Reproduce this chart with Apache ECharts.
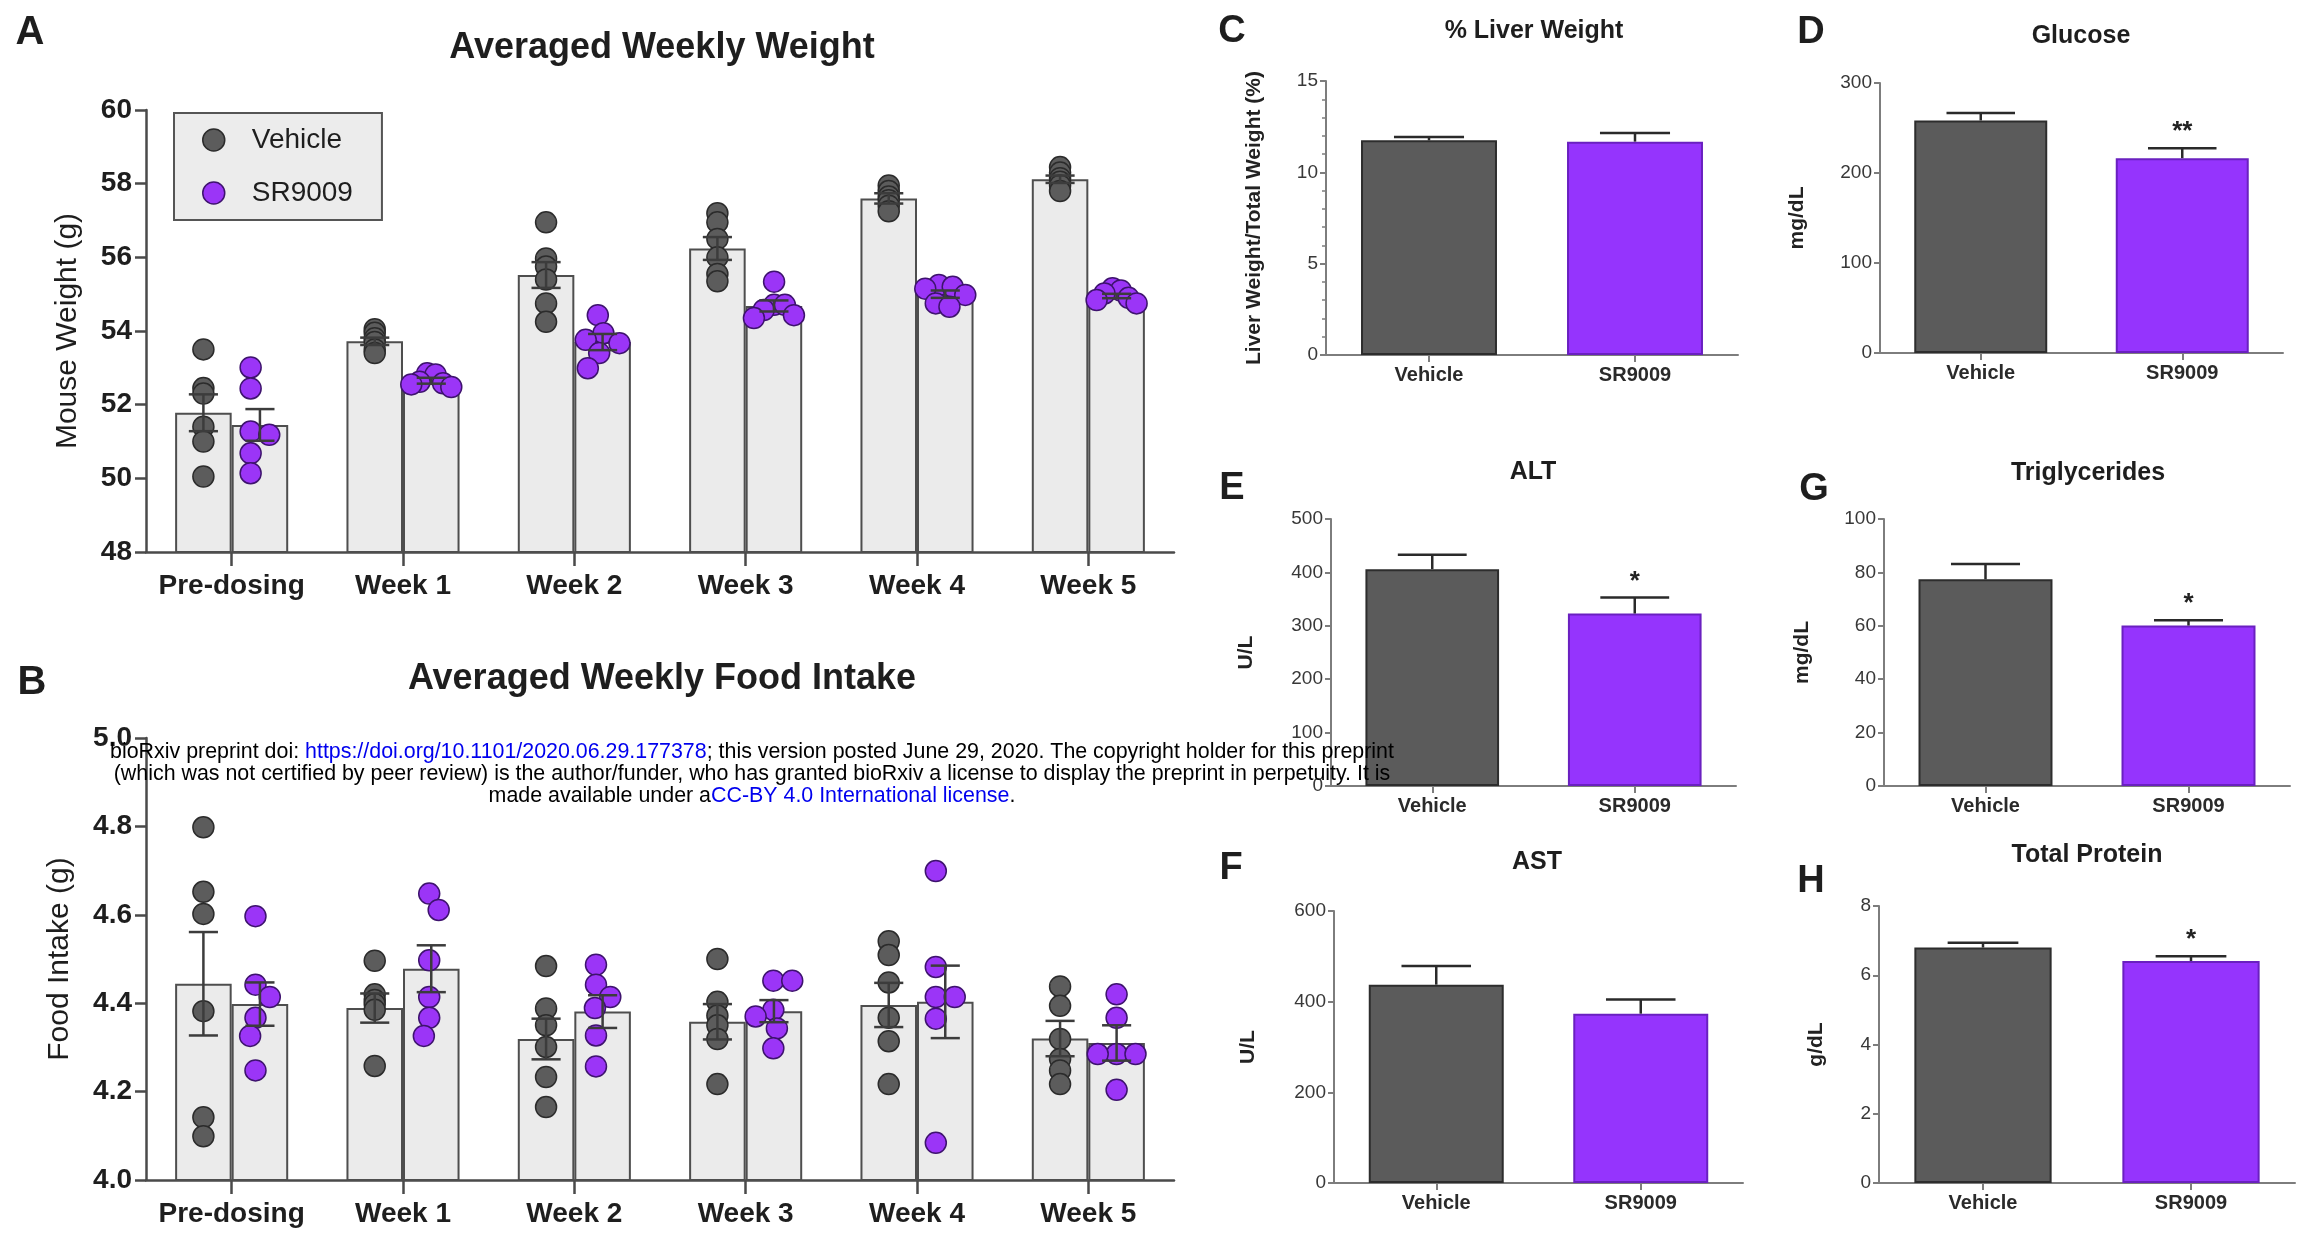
<!DOCTYPE html>
<html>
<head>
<meta charset="utf-8">
<script src="https://cdn.jsdelivr.net/npm/echarts@6.0.0/dist/echarts.min.js"></script>
<style>html,body{margin:0;padding:0;background:#fff}#c{width:2308px;height:1254px}</style>
</head>
<body>
<div id="c"></div>
<script>
// ---------------- DATA ----------------
const weeks = ['Pre-dosing', 'Week 1', 'Week 2', 'Week 3', 'Week 4', 'Week 5'];
const groups = ['Vehicle', 'SR9009'];

// A: Averaged Weekly Weight (g)
const weightTicks = [48, 50, 52, 54, 56, 58, 60];
const weightVehicleMean = [51.78, 53.72, 55.52, 56.24, 57.60, 58.12];
const weightVehicleSem  = [0.50, 0.10, 0.35, 0.31, 0.14, 0.10];
const weightSRMean      = [51.45, 52.65, 53.70, 54.68, 55.00, 54.95];
const weightSRSem       = [0.43, 0.08, 0.22, 0.15, 0.10, 0.06];
const weightVehiclePoints = [
  [53.50, 52.45, 52.30, 51.40, 51.00, 50.05],
  [54.05, 53.95, 53.80, 53.70, 53.50, 53.40],
  [56.95, 55.97, 55.75, 55.40, 54.75, 54.25],
  [57.20, 56.95, 56.50, 56.00, 55.55, 55.35],
  [57.95, 57.80, 57.65, 57.55, 57.40, 57.25],
  [58.45, 58.30, 58.15, 58.05, 57.95, 57.80]
];
const weightSRPoints = [
  [53.01, 52.44, 51.27, 51.18, 50.68, 50.14],
  [52.85, 52.82, 52.62, 52.58, 52.55, 52.48],
  [54.43, 53.94, 53.76, 53.67, 53.40, 52.99],
  [55.34, 54.71, 54.71, 54.57, 54.43, 54.35],
  [55.25, 55.20, 55.15, 54.98, 54.75, 54.66],
  [55.16, 55.10, 55.02, 54.90, 54.84, 54.75]
];

// B: Averaged Weekly Food Intake (g)
const foodTicks = [4.0, 4.2, 4.4, 4.6, 4.8, 5.0];
const foodVehicleMean = [4.444, 4.389, 4.319, 4.358, 4.396, 4.320];
const foodVehicleSem  = [0.117, 0.033, 0.046, 0.040, 0.050, 0.040];
const foodSRMean      = [4.398, 4.478, 4.381, 4.382, 4.403, 4.310];
const foodSRSem       = [0.049, 0.053, 0.037, 0.025, 0.082, 0.040];
const foodVehiclePoints = [
  [4.798, 4.652, 4.602, 4.382, 4.142, 4.099],
  [4.496, 4.420, 4.407, 4.398, 4.385, 4.258],
  [4.484, 4.388, 4.350, 4.301, 4.233, 4.165],
  [4.500, 4.403, 4.372, 4.350, 4.319, 4.217],
  [4.540, 4.509, 4.447, 4.367, 4.314, 4.217],
  [4.438, 4.394, 4.319, 4.274, 4.248, 4.217]
];
const foodSRPoints = [
  [4.597, 4.442, 4.414, 4.367, 4.326, 4.248],
  [4.648, 4.611, 4.497, 4.414, 4.367, 4.326],
  [4.487, 4.442, 4.414, 4.389, 4.327, 4.257],
  [4.451, 4.451, 4.385, 4.370, 4.343, 4.298],
  [4.699, 4.482, 4.414, 4.414, 4.365, 4.084],
  [4.420, 4.367, 4.285, 4.285, 4.285, 4.204]
];

// C-H: serum / tissue measures, [Vehicle, SR9009]
const liverMean   = [11.75, 11.68];  const liverSem   = [0.18, 0.47];  const liverSig   = ['', ''];
const glucoseMean = [258.4, 216.5];  const glucoseSem = [8.2, 11.1];   const glucoseSig = ['', '**'];
const altMean     = [406, 323];      const altSem     = [27, 30];      const altSig     = ['', '*'];
const trigMean    = [77.4, 60.1];    const trigSem    = [5.7, 2.0];    const trigSig    = ['', '*'];
const astMean     = [437.5, 373.5];  const astSem     = [41, 31.5];    const astSig     = ['', ''];
const proteinMean = [6.80, 6.41];    const proteinSem = [0.14, 0.14];  const proteinSig = ['', '*'];

const watermarkLines = [
  ['bioRxiv preprint doi: ', 'https://doi.org/10.1101/2020.06.29.177378', '; this version posted June 29, 2020. The copyright holder for this preprint'],
  ['(which was not certified by peer review) is the author/funder, who has granted bioRxiv a license to display the preprint in perpetuity. It is', '', ''],
  ['made available under a', 'CC-BY 4.0 International license', '.']
];

// ---------------- STYLE ----------------
const FONT = '"Liberation Sans", Arial, Helvetica, sans-serif';
const DOT = 21;
const SWARM_LIMIT = 20;
const C = {
  vehDot: '#5c5c5c', vehDotBorder: '#2b2b2b',
  srDot: '#9b35f7', srDotBorder: '#3e136e',
  light: '#ebebeb', lightBorder: '#4e4e4e',
  vehBar: '#5b5b5b', vehBarBorder: '#2d2d2d',
  srBar: '#9534fd', srBarBorder: '#6a20c0',
  axisDark: '#4a4a4a', axisGray: '#7d7d7d', text: '#1e1e1e'
};

function beeswarm(ys, D) {
  const order = ys.map((y, i) => i).sort((a, b) => ys[a] - ys[b]);
  const placed = [];
  const res = new Array(ys.length).fill(0);
  let flip = 1;
  for (const i of order) {
    const y = ys[i];
    const cands = [0];
    for (const p of placed) {
      const dy = Math.abs(p.y - y);
      if (dy < D) { const w = Math.sqrt(D * D - dy * dy); cands.push(p.x + w, p.x - w); }
    }
    cands.sort((a, b) => Math.abs(a) - Math.abs(b) || (flip * (b - a)));
    let x = 0;
    for (const c of cands) {
      if (placed.every(p => (p.x - c) * (p.x - c) + (p.y - y) * (p.y - y) >= D * D - 0.01)) { x = c; break; }
    }
    if (x !== 0) flip = -flip;
    placed.push({ x, y });
    res[i] = x;
  }
  // centre the swarm and compress it so it stays within the bar, as in the original figure
  const lo = Math.min(...res), hi = Math.max(...res);
  const shift = (lo + hi) / 2;
  let out = res.map(v => v - shift);
  const m = Math.max(...out.map(Math.abs));
  if (m > SWARM_LIMIT) out = out.map(v => v * SWARM_LIMIT / m);
  return out;
}

const grids = [], xAxes = [], yAxes = [], series = [], graphics = [];

function addText(x, y, text, font, extra) {
  graphics.push(Object.assign({
    type: 'text', x, y, z: 50,
    style: { text, font, fill: C.text, align: 'center', verticalAlign: 'middle', textAlign: 'center', textVerticalAlign: 'middle' }
  }, extra || {}));
}

// ---------------- WEEKLY PANELS (A, B) ----------------
function weeklyPanel(cfg) {
  const gi = grids.length;
  grids.push(cfg.grid);
  xAxes.push({
    type: 'category', gridIndex: gi, data: weeks,
    axisLine: { show: true, lineStyle: { color: C.axisDark, width: 2.5 } },
    axisTick: { show: true, alignWithLabel: true, interval: 0, length: 14, lineStyle: { color: C.axisDark, width: 2.5 } },
    axisLabel: { interval: 0, margin: 20, fontSize: 28, fontWeight: 'bold', color: C.text, fontFamily: FONT },
    splitLine: { show: false }
  });
  yAxes.push({
    type: 'value', gridIndex: gi, min: cfg.ticks[0], max: cfg.ticks[cfg.ticks.length - 1],
    interval: cfg.ticks[1] - cfg.ticks[0],
    name: cfg.yName, nameLocation: 'middle', nameGap: cfg.nameGap, nameRotate: 90,
    nameTextStyle: { fontSize: 30, color: C.text, fontFamily: FONT },
    axisLine: { show: true, lineStyle: { color: C.axisDark, width: 2.5 } },
    axisTick: { show: true, length: 11, lineStyle: { color: C.axisDark, width: 2.5 } },
    axisLabel: { margin: 14, fontSize: 28, fontWeight: 'bold', color: C.text, fontFamily: FONT, formatter: cfg.fmt },
    splitLine: { show: false }
  });
  const barCommon = {
    type: 'bar', xAxisIndex: gi, yAxisIndex: gi, barGap: '0%', barCategoryGap: '34%', z: 2,
    itemStyle: { color: C.light, borderColor: C.lightBorder, borderWidth: 2 }, silent: true
  };
  series.push(Object.assign({ name: cfg.id + ' Vehicle mean', data: cfg.vMean }, barCommon));
  series.push(Object.assign({ name: cfg.id + ' SR9009 mean', data: cfg.sMean }, barCommon));

  const sets = [
    { g: 0, name: 'Vehicle', pts: cfg.vPts, fill: C.vehDot, stroke: C.vehDotBorder, swarm: false, mean: cfg.vMean, sem: cfg.vSem },
    { g: 1, name: 'SR9009', pts: cfg.sPts, fill: C.srDot, stroke: C.srDotBorder, swarm: true, mean: cfg.sMean, sem: cfg.sSem }
  ];
  sets.forEach(s => {
    const off = (s.g === 0 ? -1 : 1) * 0.165;
    const data = [];
    s.pts.forEach((vals, ci) => vals.forEach((v, k) => data.push([ci, v, k])));
    series.push({
      type: 'custom', name: s.name, xAxisIndex: gi, yAxisIndex: gi, z: 5, silent: true,
      data, encode: { x: 0, y: 1 },
      itemStyle: { color: s.fill, borderColor: s.stroke },
      renderItem(params, api) {
        const ci = api.value(0), k = api.value(2);
        const band = api.size([1, 0])[0];
        const cx0 = api.coord([ci, cfg.ticks[0]])[0] + off * band;
        const ys = s.pts[ci].map(v => api.coord([ci, v])[1]);
        const dx = s.swarm ? beeswarm(ys, DOT * 0.9)[k] : 0;
        return { type: 'circle', shape: { cx: cx0 + dx, cy: ys[k], r: DOT / 2 },
                 style: { fill: s.fill, stroke: s.stroke, lineWidth: 1.5 } };
      }
    });
    series.push({
      type: 'custom', name: cfg.id + ' ' + s.name + ' SEM', xAxisIndex: gi, yAxisIndex: gi, z: 6, silent: true,
      data: s.mean.map((m, ci) => [ci, m, s.sem[ci]]), encode: { x: 0, y: 1 },
      renderItem(params, api) {
        const ci = api.value(0), m = api.value(1), e = api.value(2);
        const band = api.size([1, 0])[0];
        const x = api.coord([ci, m])[0] + off * band;
        const yt = api.coord([ci, m + e])[1], yb = api.coord([ci, m - e])[1];
        const hw = band * 0.085;
        const st = { stroke: '#3c3c3c', lineWidth: 2.5 };
        return { type: 'group', children: [
          { type: 'line', shape: { x1: x, y1: yt, x2: x, y2: yb }, style: st },
          { type: 'line', shape: { x1: x - hw, y1: yt, x2: x + hw, y2: yt }, style: st },
          { type: 'line', shape: { x1: x - hw, y1: yb, x2: x + hw, y2: yb }, style: st }
        ] };
      }
    });
  });
  addText(cfg.titlePos[0], cfg.titlePos[1], cfg.title, 'bold 36px ' + FONT);
  addText(cfg.letterPos[0], cfg.letterPos[1], cfg.id, 'bold 40px ' + FONT);
}

weeklyPanel({
  id: 'A', title: 'Averaged Weekly Weight', yName: 'Mouse Weight (g)', nameGap: 63,
  grid: { left: 146, top: 110, width: 1028, height: 442 },
  ticks: weightTicks, fmt: v => String(v),
  vMean: weightVehicleMean, vSem: weightVehicleSem, sMean: weightSRMean, sSem: weightSRSem,
  vPts: weightVehiclePoints, sPts: weightSRPoints,
  titlePos: [662, 48], letterPos: [30, 33]
});
weeklyPanel({
  id: 'B', title: 'Averaged Weekly Food Intake', yName: 'Food Intake (g)', nameGap: 71,
  grid: { left: 146, top: 738, width: 1028, height: 442 },
  ticks: foodTicks, fmt: v => v.toFixed(1),
  vMean: foodVehicleMean, vSem: foodVehicleSem, sMean: foodSRMean, sSem: foodSRSem,
  vPts: foodVehiclePoints, sPts: foodSRPoints,
  titlePos: [662, 679], letterPos: [32, 683]
});

// ---------------- BIOCHEMISTRY PANELS (C-H) ----------------
function bioPanel(cfg) {
  const gi = grids.length;
  grids.push(cfg.grid);
  xAxes.push({
    type: 'category', gridIndex: gi, data: groups,
    axisLine: { show: true, lineStyle: { color: C.axisGray, width: 2 } },
    axisTick: { show: true, alignWithLabel: true, interval: 0, length: 7, lineStyle: { color: C.axisGray, width: 2 } },
    axisLabel: { interval: 0, margin: 10, fontSize: 20, fontWeight: 'bold', color: '#2a2a2a', fontFamily: FONT },
    splitLine: { show: false }
  });
  yAxes.push({
    type: 'value', gridIndex: gi, min: 0, max: cfg.max, interval: cfg.interval,
    name: cfg.yName, nameLocation: 'middle', nameGap: cfg.nameGap, nameRotate: 90,
    nameTextStyle: { fontSize: 21, fontWeight: 'bold', color: '#222', fontFamily: FONT },
    axisLine: { show: true, lineStyle: { color: C.axisGray, width: 2 } },
    axisTick: { show: true, length: 6, lineStyle: { color: C.axisGray, width: 2 } },
    minorTick: { show: !!cfg.minor, splitNumber: 5, length: 4, lineStyle: { color: C.axisGray, width: 1.5 } },
    axisLabel: { margin: 8, fontSize: 19, color: '#383838', fontFamily: FONT },
    splitLine: { show: false }, minorSplitLine: { show: false }
  });
  series.push({
    type: 'bar', name: cfg.id + ' bars', xAxisIndex: gi, yAxisIndex: gi, barCategoryGap: '34%', z: 2, silent: true,
    data: cfg.mean.map((m, i) => ({
      value: m,
      itemStyle: i === 0 ? { color: C.vehBar, borderColor: C.vehBarBorder, borderWidth: 2 }
                         : { color: C.srBar, borderColor: C.srBarBorder, borderWidth: 2 }
    }))
  });
  series.push({
    type: 'custom', name: cfg.id + ' SEM', xAxisIndex: gi, yAxisIndex: gi, z: 6, silent: true,
    data: cfg.mean.map((m, i) => [i, m, cfg.sem[i]]), encode: { x: 0, y: 1 },
    renderItem(params, api) {
      const i = api.value(0), m = api.value(1), e = api.value(2);
      const band = api.size([1, 0])[0];
      const p = api.coord([i, m]);
      const yt = api.coord([i, m + e])[1];
      const hw = band * 0.17;
      const st = { stroke: '#2a2a2a', lineWidth: 2.5 };
      const children = [
        { type: 'line', shape: { x1: p[0], y1: p[1], x2: p[0], y2: yt }, style: st },
        { type: 'line', shape: { x1: p[0] - hw, y1: yt, x2: p[0] + hw, y2: yt }, style: st }
      ];
      const sig = cfg.sig[i];
      if (sig) {
        children.push({ type: 'text', style: {
          text: sig, x: p[0], y: yt - 3, font: 'bold 26px ' + FONT, fill: '#222',
          align: 'center', verticalAlign: 'bottom', textAlign: 'center', textVerticalAlign: 'bottom'
        } });
      }
      return { type: 'group', children };
    }
  });
  addText(cfg.titlePos[0], cfg.titlePos[1], cfg.title, 'bold 25px ' + FONT);
  addText(cfg.letterPos[0], cfg.letterPos[1], cfg.id, 'bold 38px ' + FONT);
}

bioPanel({ id: 'C', title: '% Liver Weight', yName: 'Liver Weight/Total Weight (%)', nameGap: 61,
  grid: { left: 1326, top: 81, width: 412, height: 274 }, max: 15, interval: 5, minor: true,
  mean: liverMean, sem: liverSem, sig: liverSig, titlePos: [1534, 31], letterPos: [1232, 32] });
bioPanel({ id: 'D', title: 'Glucose', yName: 'mg/dL', nameGap: 72,
  grid: { left: 1880, top: 83, width: 403, height: 270 }, max: 300, interval: 100,
  mean: glucoseMean, sem: glucoseSem, sig: glucoseSig, titlePos: [2081, 36], letterPos: [1811, 33] });
bioPanel({ id: 'E', title: 'ALT', yName: 'U/L', nameGap: 74,
  grid: { left: 1331, top: 519, width: 405, height: 267 }, max: 500, interval: 100,
  mean: altMean, sem: altSem, sig: altSig, titlePos: [1533, 472], letterPos: [1232, 489] });
bioPanel({ id: 'G', title: 'Triglycerides', yName: 'mg/dL', nameGap: 71,
  grid: { left: 1884, top: 519, width: 406, height: 267 }, max: 100, interval: 20,
  mean: trigMean, sem: trigSem, sig: trigSig, titlePos: [2088, 473], letterPos: [1814, 490] });
bioPanel({ id: 'F', title: 'AST', yName: 'U/L', nameGap: 75,
  grid: { left: 1334, top: 911, width: 409, height: 272 }, max: 600, interval: 200,
  mean: astMean, sem: astSem, sig: astSig, titlePos: [1537, 862], letterPos: [1231, 869] });
bioPanel({ id: 'H', title: 'Total Protein', yName: 'g/dL', nameGap: 52,
  grid: { left: 1879, top: 906, width: 416, height: 277 }, max: 8, interval: 2,
  mean: proteinMean, sem: proteinSem, sig: proteinSig, titlePos: [2087, 855], letterPos: [1811, 882] });

// ---------------- WATERMARK ----------------
const wmY = [752, 774, 796];
watermarkLines.forEach((parts, li) => {
  let t = '';
  if (parts[0]) t += '{n|' + parts[0] + '}';
  if (parts[1]) t += '{l|' + parts[1] + '}';
  if (parts[2]) t += '{n|' + parts[2] + '}';
  graphics.push({
    type: 'text', x: 752, y: wmY[li], z: 100,
    style: {
      text: t, align: 'center', verticalAlign: 'middle', textAlign: 'center', textVerticalAlign: 'middle',
      rich: {
        n: { fill: '#000', color: '#000', fontSize: 21.4, fontFamily: FONT },
        l: { fill: '#0000ee', color: '#0000ee', fontSize: 21.4, fontFamily: FONT }
      }
    }
  });
});

// ---------------- CHART ----------------
const chart = echarts.init(document.getElementById('c'), null, { renderer: 'canvas', width: 2308, height: 1254 });
chart.setOption({
  backgroundColor: '#ffffff',
  animation: false,
  textStyle: { fontFamily: FONT },
  grid: grids.map(g => Object.assign({ containLabel: false }, g)),
  xAxis: xAxes,
  yAxis: yAxes,
  legend: {
    left: 174, top: 113, orient: 'vertical', selectedMode: false,
    data: [
      { name: 'Vehicle', icon: 'circle', itemStyle: { color: C.vehDot, borderColor: C.vehDotBorder, borderWidth: 1.5 } },
      { name: 'SR9009', icon: 'circle', itemStyle: { color: C.srDot, borderColor: C.srDotBorder, borderWidth: 1.5 } }
    ],
    itemWidth: 22, itemHeight: 22, itemGap: 23,
    padding: [12, 29, 12, 28],
    backgroundColor: '#ececec', borderColor: '#555', borderWidth: 2, borderRadius: 0,
    textStyle: { fontSize: 28, color: C.text, fontFamily: FONT, lineHeight: 30, padding: [0, 0, 0, 22] }
  },
  series,
  graphic: graphics
});
</script>
</body>
</html>
